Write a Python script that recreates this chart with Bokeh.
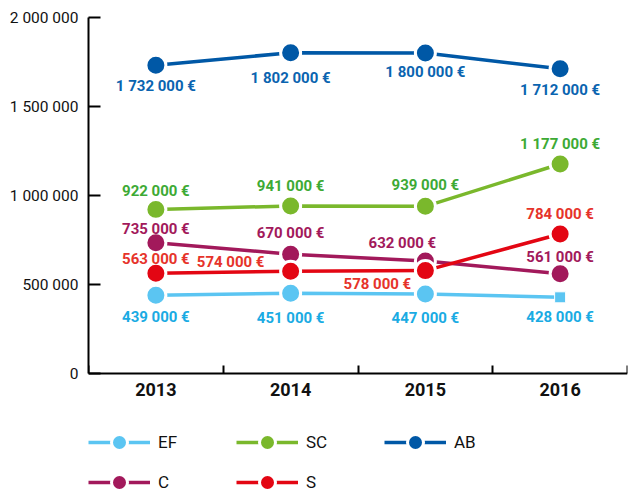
from bokeh.plotting import figure
from bokeh.models import Range1d, FixedTicker, Legend, LegendItem, ColumnDataSource
from bokeh.embed import file_html
from bokeh.resources import INLINE
from bokeh.core.properties import value

# ---- data ----
years = [2013, 2014, 2015, 2016]
year_labels = ["2013", "2014", "2015", "2016"]
EF = [439000, 451000, 447000, 428000]
SC = [922000, 941000, 939000, 1177000]
AB = [1732000, 1802000, 1800000, 1712000]
C = [735000, 670000, 632000, 561000]
S = [563000, 574000, 578000, 784000]
y_ticks = [0, 500000, 1000000, 1500000, 2000000]
series_names = ["EF", "SC", "AB", "C", "S"]


def fmt(v):
    return f"{v:,}".replace(",", " ")


# ---- styles ----
styles = {
    "AB": dict(color="#0058A6", label="#0A64B0",
               dx=[0, 0, 0, 0], dy=[21, 25, 19, 21]),
    "SC": dict(color="#7AB82C", label="#3DAA35",
               dx=[0, 0, 0, 0], dy=[-18, -20, -21, -20]),
    "C": dict(color="#A2195B", label="#A2195B",
              dx=[0, 0, -23, 0], dy=[-14, -21, -18, -17]),
    "S": dict(color="#E30613", label="#E6332A",
              dx=[0, -60, -48, 0], dy=[-14, -9, 13, -20]),
    "EF": dict(color="#5BC5F2", label="#1AABE3",
               dx=[0, 0, 0, 0], dy=[22, 25, 24, 20]),
}
data = {"EF": EF, "SC": SC, "AB": AB, "C": C, "S": S}
ef_markers = ["circle", "circle", "circle", "square"]
ef_sizes = [20, 20, 20, 11]

FONT = "Roboto"

# layout (screen px)
W, H = 630, 491
TOP, LEFT, RIGHT = 17, 88, 3
AXIS_Y = 373                     # screen row of the value 0
ymax = y_ticks[-1]
px_per_unit = (AXIS_Y - TOP) / ymax
ymin = -(H - AXIS_Y) / px_per_unit  # extend frame below 0 to host the legend

p = figure(width=W, height=H, output_backend="svg", toolbar_location=None,
           x_range=Range1d(years[0] - 0.5, years[-1] + 0.5),
           y_range=Range1d(ymin, ymax))
p.outline_line_color = None
p.xgrid.visible = False
p.ygrid.visible = False
p.min_border_left = LEFT
p.min_border_right = RIGHT
p.min_border_top = TOP
p.min_border_bottom = 0

# y axis
p.yaxis.ticker = FixedTicker(ticks=y_ticks)
p.yaxis.bounds = (0, ymax)
p.yaxis.major_label_overrides = {t: fmt(t) for t in y_ticks}
p.yaxis.axis_line_width = 2
p.yaxis.major_tick_line_width = 2
p.yaxis.major_tick_in = 12
p.yaxis.major_tick_out = 0
p.yaxis.minor_tick_line_color = None
p.yaxis.major_label_standoff = 10
p.yaxis.major_label_text_font = FONT
p.yaxis.major_label_text_font_size = "15.5px"
p.yaxis.major_label_text_color = "#111111"

# x axis (sits at value 0 inside the frame)
bounds = [years[0] - 0.5] + [y + 0.5 for y in years]
p.xaxis.fixed_location = 0
p.xaxis.ticker = FixedTicker(ticks=years, minor_ticks=bounds)
p.xaxis.major_label_overrides = {y: l for y, l in zip(years, year_labels)}
p.xaxis.axis_line_width = 2
p.xaxis.major_tick_in = 0
p.xaxis.major_tick_out = 0
p.xaxis.minor_tick_in = 8
p.xaxis.minor_tick_out = 0
p.xaxis.minor_tick_line_width = 2
p.xaxis.minor_tick_line_color = "black"
p.xaxis.major_label_standoff = 9
p.xaxis.major_label_text_font = FONT
p.xaxis.major_label_text_font_style = "bold"
p.xaxis.major_label_text_font_size = "18px"
p.xaxis.major_label_text_color = "#111111"

legend_items = {}
for name in ["AB", "SC", "C", "S", "EF"]:
    st = styles[name]
    vals = data[name]
    src = ColumnDataSource(dict(
        x=years, y=vals,
        t=[fmt(v) + " €" for v in vals],
        dx=st["dx"], dy=st["dy"],
        m=ef_markers if name == "EF" else ["circle"] * 4,
        s=ef_sizes if name == "EF" else [20] * 4,
        lw=[3, 3, 3, 1] if name == "EF" else [3] * 4,
    ))
    lr = p.line("x", "y", source=src, line_color=st["color"], line_width=3.5)
    sr = p.scatter("x", "y", source=src, marker="m", size="s",
                   fill_color=st["color"], line_color="white", line_width="lw")
    p.text("x", "y", text="t", source=src, x_offset="dx", y_offset="dy",
           text_align="center", text_baseline="middle",
           text_font=value(FONT), text_font_style="bold",
           text_font_size="15px", text_color=st["label"])
    legend_items[name] = [lr, sr]

legend = Legend(items=[LegendItem(label=n, renderers=legend_items[n], index=0)
                       for n in series_names],
                orientation="horizontal", ncols=3)
legend.label_text_font = FONT
legend.label_text_font_size = "17px"
legend.label_text_color = "#111111"
legend.glyph_width = 62
legend.glyph_height = 40
legend.label_standoff = 8
legend.label_width = 78
legend.spacing = 0
legend.padding = 0
legend.margin = 0
legend.border_line_color = None
legend.background_fill_color = None
legend.location = (0, -11)
p.add_layout(legend, "center")

open("out.html", "w").write(file_html(p, INLINE))
